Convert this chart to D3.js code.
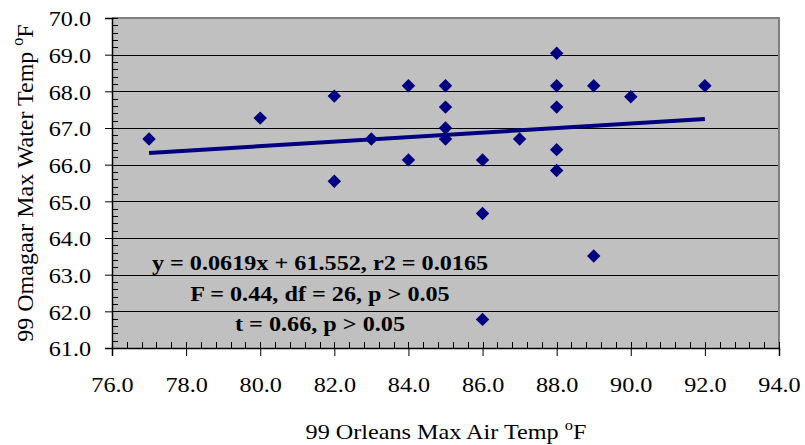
<!DOCTYPE html>
<html><head><meta charset="utf-8">
<script src="https://cdn.jsdelivr.net/npm/d3@7"></script>
<style>body{margin:0;background:#fff}svg{display:block}</style>
</head><body>
<svg id="chart" width="805" height="445"></svg>
<script>
const airTemp   = [77, 80, 82, 82, 83, 84, 84, 85, 85, 85, 85, 86, 86, 86, 87, 88, 88, 88, 88, 88, 89, 89, 90, 92];
const waterTemp = [66.7, 67.27, 67.87, 65.55, 66.7, 68.15, 66.13, 68.15, 67.57, 67.0, 66.7, 66.13, 64.67, 61.78, 66.7, 69.04, 68.15, 67.57, 66.41, 65.84, 68.15, 63.51, 67.85, 68.15];
const xTicks = [76, 78, 80, 82, 84, 86, 88, 90, 92, 94];
const yTicks = [61, 62, 63, 64, 65, 66, 67, 68, 69, 70];
const trendSlope = 0.0619, trendIntercept = 61.552;
const trendRange = [77, 92];
const annotations = ["y = 0.0619x + 61.552, r2 = 0.0165", "F = 0.44, df = 26, p > 0.05", "t = 0.66, p > 0.05"];
const xTitle = "99 Orleans Max Air Temp ";
const yTitle = "99 Omagaar Max Water Temp ";

const svg = d3.select("#chart");
const L = 112, R = 779, T = 18, B = 348;
const x = d3.scaleLinear().domain([76, 94]).range([L, R]);
const y = d3.scaleLinear().domain([61, 70]).range([B, T]);
const font = "'Liberation Serif','Times New Roman',serif";

svg.append("rect").attr("x", L).attr("y", T).attr("width", R - L).attr("height", B - T).attr("fill", "#c0c0c0");
// gridlines
svg.append("g").selectAll("line").data(yTicks.slice(1)).join("line")
  .attr("x1", L).attr("x2", R).attr("y1", d => Math.round(y(d)) + 0.5).attr("y2", d => Math.round(y(d)) + 0.5)
  .attr("stroke", "#000").attr("stroke-width", 1);
// border top/right
svg.append("path").attr("d", `M${L},${T}H${R}V${B}`).attr("fill", "none").attr("stroke", "#808080").attr("stroke-width", 2);

// minor ticks
const minorX = d3.range(76, 94.001, 0.4);
const minorY = d3.range(61, 70.001, 0.2);
svg.append("g").selectAll("line").data(minorX).join("line")
  .attr("x1", d => Math.round(x(d)) + 0.5).attr("x2", d => Math.round(x(d)) + 0.5)
  .attr("y1", B).attr("y2", B - 6).attr("stroke", "#000");
svg.append("g").selectAll("line").data(minorY).join("line")
  .attr("y1", d => Math.round(y(d)) + 0.5).attr("y2", d => Math.round(y(d)) + 0.5)
  .attr("x1", L).attr("x2", L + 6).attr("stroke", "#000");

const xAxis = d3.axisBottom(x).tickValues(xTicks).tickSize(8).tickPadding(12).tickFormat(d3.format(".1f"));
const gx = svg.append("g").attr("transform", `translate(0,${B})`).call(xAxis);
const yAxis = d3.axisLeft(y).tickValues(yTicks).tickSize(7).tickPadding(12).tickFormat(d3.format(".1f"));
const gy = svg.append("g").attr("transform", `translate(${L},0)`).call(yAxis);
[gx, gy].forEach(g => {
  g.select(".domain").attr("stroke", "#000").attr("stroke-width", 1.5);
  g.selectAll(".tick line").attr("stroke", "#000");
  g.selectAll(".tick text").attr("font-family", font).attr("font-size", 22).attr("fill", "#000");
});
gx.selectAll(".tick text").attr("dy", null).attr("y", 44).attr("x", 0).attr("transform", "scale(1.1,1)");
gy.selectAll(".tick text").attr("dy", "0.35em").attr("x", -19).attr("transform", "scale(1.1,1)");

// trend line
svg.append("line").attr("x1", x(trendRange[0])).attr("y1", y(trendIntercept + trendSlope * trendRange[0]))
  .attr("x2", x(trendRange[1])).attr("y2", y(trendIntercept + trendSlope * trendRange[1]))
  .attr("stroke", "#000080").attr("stroke-width", 4);

// points
const pts = airTemp.map((a, i) => [a, waterTemp[i]]);
svg.append("g").selectAll("path").data(pts).join("path")
  .attr("d", d3.symbol().type(d3.symbolDiamond2).size(115))
  .attr("transform", d => `translate(${x(d[0])},${y(d[1])})`)
  .attr("fill", "#000080");

// annotations
svg.append("g").selectAll("text").data(annotations).join("text")
  .attr("transform", (d, i) => `translate(320,${270 + i * 30.5}) scale(1.1,1)`)
  .attr("text-anchor", "middle").attr("font-family", font).attr("font-size", 22).attr("font-weight", "bold")
  .text(d => d);

// titles
const xt = svg.append("text").attr("transform", "translate(446,439) scale(1.1,1)").attr("text-anchor", "middle")
  .attr("font-family", font).attr("font-size", 22).text(xTitle);
xt.append("tspan").attr("font-size", 15).attr("dy", -9).text("o");
xt.append("tspan").attr("dy", 9).text("F");
const yt = svg.append("text").attr("transform", "translate(33,183) rotate(-90)").attr("text-anchor", "middle")
  .attr("font-family", font).attr("font-size", 24).text(yTitle);
yt.append("tspan").attr("font-size", 16).attr("dy", -10).text("o");
yt.append("tspan").attr("dy", 10).text("F");
</script>
</body></html>
